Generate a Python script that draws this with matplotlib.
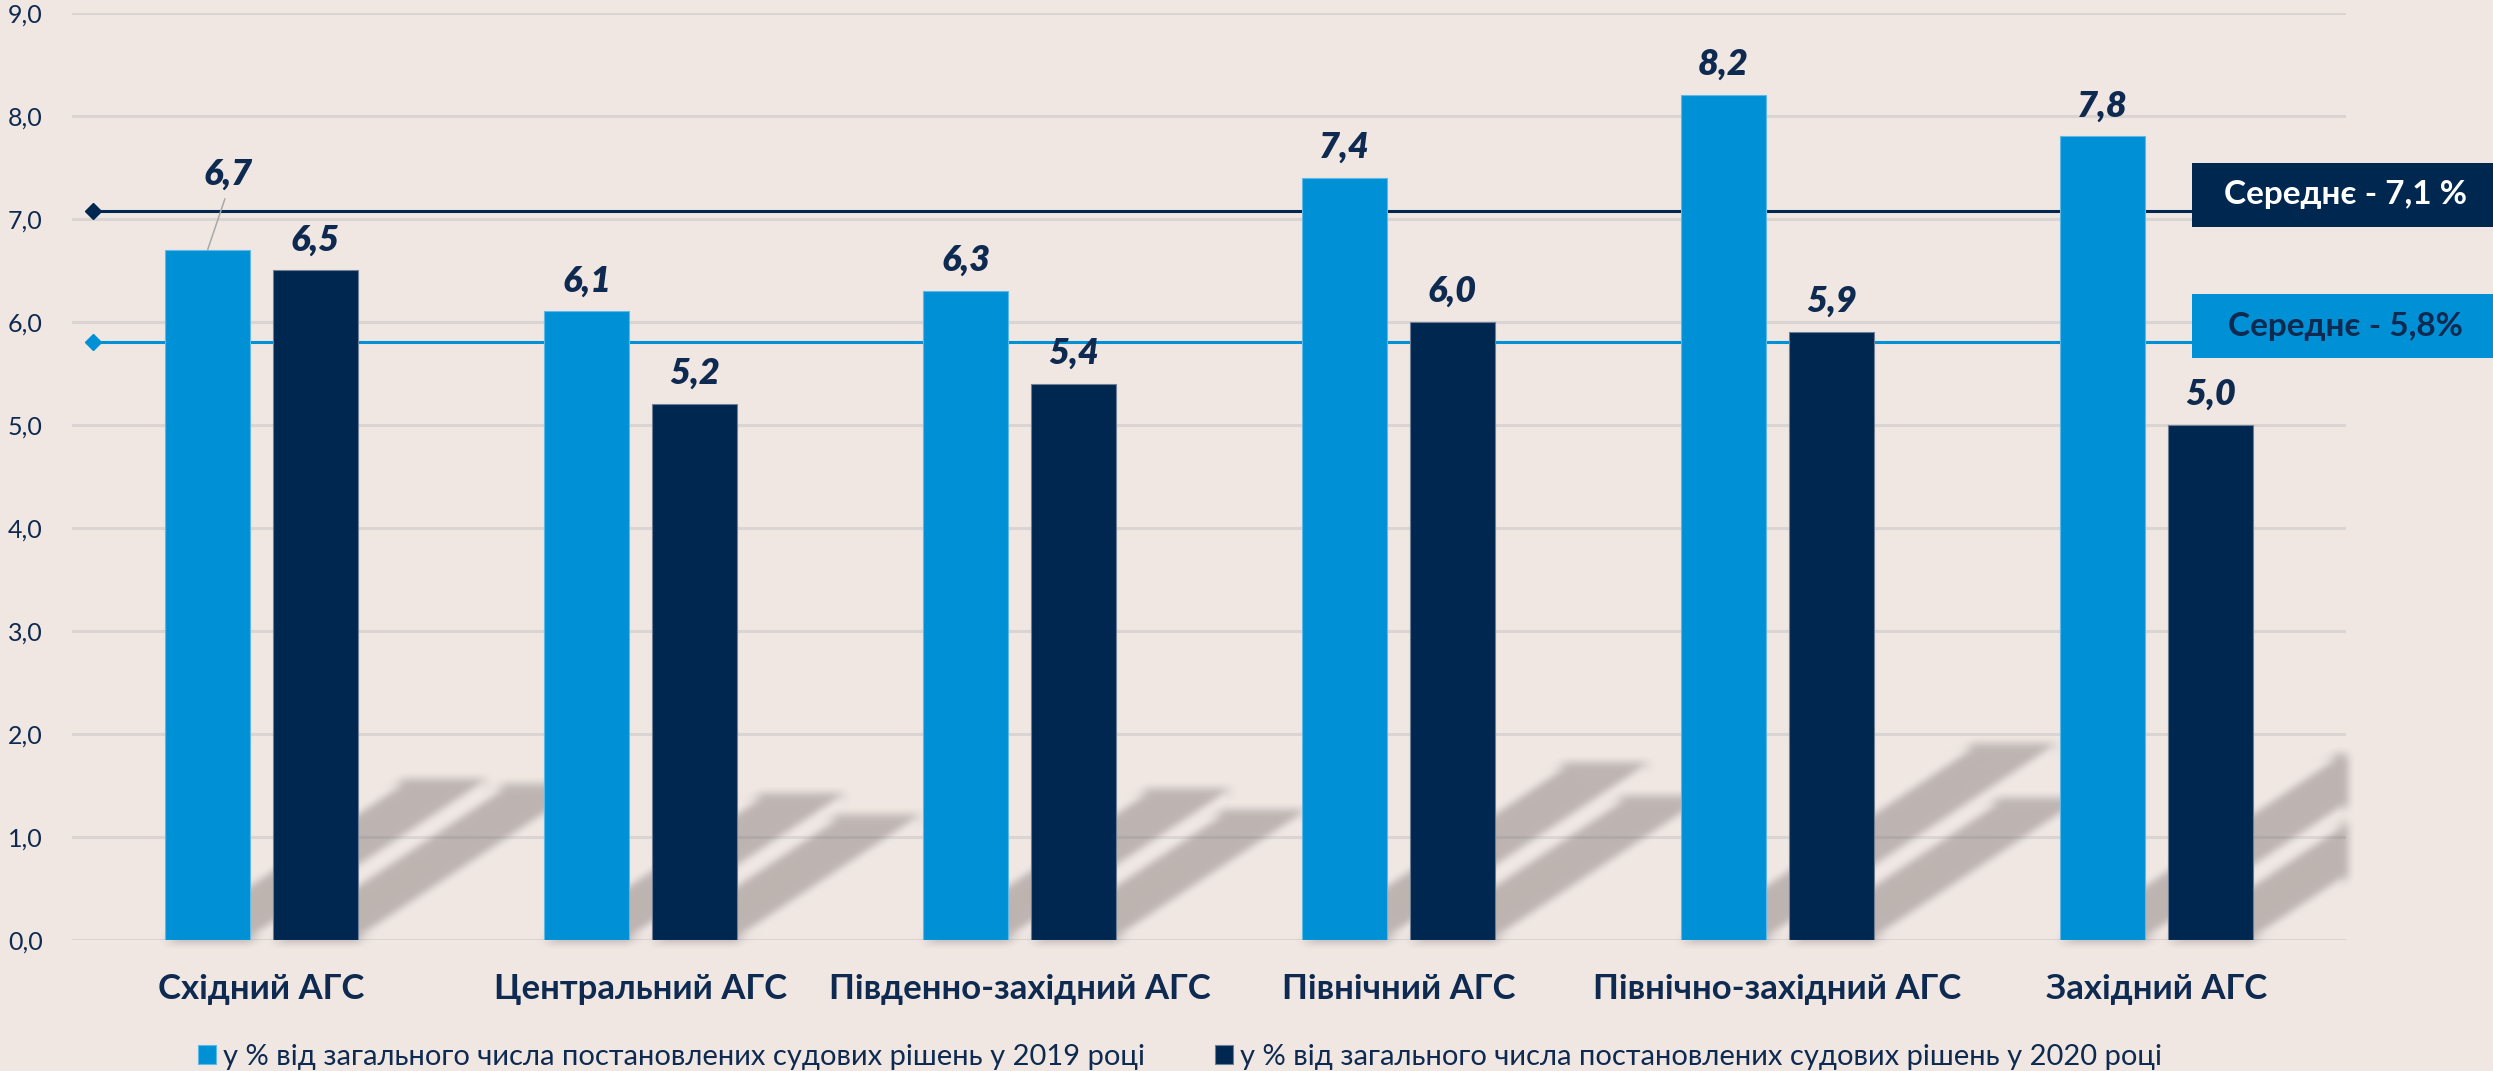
import numpy as np
import matplotlib.pyplot as plt
import matplotlib.transforms as mtransforms
from matplotlib.patches import Polygon, Rectangle

# Data
categories = ['Східний АГС', 'Центральний АГС', 'Південно-західний АГС',
              'Північний АГС', 'Північно-західний АГС', 'Західний АГС']
values_2019 = [6.7, 6.1, 6.3, 7.4, 8.2, 7.8]
values_2020 = [6.5, 5.2, 5.4, 6.0, 5.9, 5.0]
avg_values = [7.08, 5.8]
avg_labels = ['Середнє - 7,1 %', 'Середнє - 5,8%']
legend_labels = ['у % від загального числа постановлених судових рішень у 2019 році',
                 'у % від загального числа постановлених судових рішень у 2020 році']
yticks = [0, 1, 2, 3, 4, 5, 6, 7, 8, 9]

BG = '#F0E7E3'
BLUE = '#0090D6'
NAVY = '#00274F'
TXT = '#0E2A50'
GRID = '#DAD4D2'

plt.rcParams['font.family'] = ['Lato', 'DejaVu Sans']

W, H = 2493, 1071
fig = plt.figure(figsize=(W / 100, H / 100), dpi=100, facecolor=BG)
ax = fig.add_axes([72 / W, 1 - 940 / H, (2346 - 72) / W, (940 - 12.7) / H])
ax.set_facecolor(BG)
ax.set_xlim(-0.5, 5.5)
ax.set_ylim(0, 9)
for s in ax.spines.values():
    s.set_visible(False)

ax.set_yticks(yticks)
ax.set_yticklabels([f'{t:.1f}'.replace('.', ',') for t in yticks],
                   fontsize=18, color=TXT)
ax.set_xticks(range(len(categories)))
ax.set_xticklabels(categories, fontsize=25, fontweight='bold', color=TXT)
ax.tick_params(axis='both', length=0)
ax.tick_params(axis='y', pad=21)
ax.tick_params(axis='x', pad=24)
ax.yaxis.grid(True, color=GRID, lw=2.2, zorder=0)
ax.set_axisbelow(True)

x = np.arange(len(categories))
bw = 0.224
off = 0.142


# soft blur for the shadows (box blur applied twice)
def box_blur(a, r, axis):
    pad = [(0, 0)] * a.ndim
    pad[axis] = (r + 1, r)
    c = np.cumsum(np.pad(a, pad), axis=axis)
    n = a.shape[axis]
    hi = np.take(c, np.arange(2 * r + 1, 2 * r + 1 + n), axis=axis)
    lo = np.take(c, np.arange(0, n), axis=axis)
    return (hi - lo) / (2 * r + 1)


def blur(im, dpi):
    r = 5
    p = 4 * r
    im = np.pad(im, ((p, p), (p, p), (0, 0)))
    for _ in range(2):
        im = box_blur(im, r, 0)
        im = box_blur(im, r, 1)
    return im, -p, -p


# perspective shadows behind the bars
inv = ax.transData.inverted()
for vals, dx in [(values_2019, -off), (values_2020, off)]:
    for xi, v in zip(x, vals):
        X0, Y0 = ax.transData.transform((xi + dx - bw / 2, 0))
        X1, _ = ax.transData.transform((xi + dx + bw / 2, 0))
        hpx = (ax.transData.transform((0, v))[1] - Y0) * 0.23
        sh = 1.5 * hpx
        pts = inv.transform([(X0, Y0), (X1, Y0), (X1 + sh, Y0 + hpx), (X0 + sh, Y0 + hpx)])
        poly = Polygon(pts, closed=True, fc='#786E6C', ec='none', alpha=0.42, zorder=1)
        poly.set_agg_filter(blur)
        ax.add_patch(poly)

ax.bar(x - off, values_2019, bw, color=BLUE, edgecolor='#5FB8E6', lw=0.8, zorder=3,
       label=legend_labels[0])
ax.bar(x + off, values_2020, bw, color=NAVY, edgecolor='#6F7F95', lw=0.8, zorder=3,
       label=legend_labels[1])

# value labels
special = {(0, 0): (20, 65)}
for si, (vals, dx) in enumerate([(values_2019, -off), (values_2020, off)]):
    for i, v in enumerate(vals):
        txt = f'{v:.1f}'.replace('.', ',')
        if (si, i) in special:
            ax.annotate(txt, xy=(x[i] + dx, v), xytext=special[(si, i)],
                        textcoords='offset pixels', ha='center', va='baseline',
                        fontsize=26, fontweight='heavy', fontstyle='italic', color=TXT,
                        zorder=5,
                        arrowprops=dict(arrowstyle='-', color='#A8A8A8', lw=1.1,
                                        relpos=(0.5, 0.0), shrinkA=4, shrinkB=0))
        else:
            ax.annotate(txt, xy=(x[i] + dx, v), xytext=(0, 20),
                        textcoords='offset pixels', ha='center', va='baseline',
                        fontsize=26, fontweight='heavy', fontstyle='italic', color=TXT,
                        zorder=5)

# average lines with labels on the right
blend = mtransforms.blended_transform_factory(ax.transAxes, ax.transData)
x_start = (93 - 72) / (2346 - 72)
x_end = (2190 - 72) / (2346 - 72)
box_colors = [NAVY, BLUE]
text_colors = ['white', TXT]
for v, lab, bc, tc in zip(avg_values, avg_labels, box_colors, text_colors):
    ax.plot([x_start, x_end], [v, v], color=bc, lw=2.2, transform=blend, zorder=2,
            clip_on=False)
    ax.plot([x_start], [v], marker='D', ms=8, color=bc, transform=blend, zorder=2,
            clip_on=False)
    yc = ax.transData.transform((0, v))[1] + 16
    fig.patches.append(Rectangle((2192 / W, (yc - 32) / H), (W - 2192) / W, 64 / H,
                                 transform=fig.transFigure, fc=bc, ec='none', zorder=4))
    fig.text(2345 / W, yc / H, lab, ha='center', va='center', fontsize=24,
             fontweight='bold', color=tc, zorder=5)

fig.legend(loc='center', bbox_to_anchor=(1180 / W, 1 - 1057 / H), ncol=2,
           frameon=False, fontsize=21, labelcolor=TXT, handlelength=0.6,
           handleheight=0.65, handletextpad=0.25, columnspacing=2.4)

fig.savefig('out.png', dpi=100, facecolor=BG)
